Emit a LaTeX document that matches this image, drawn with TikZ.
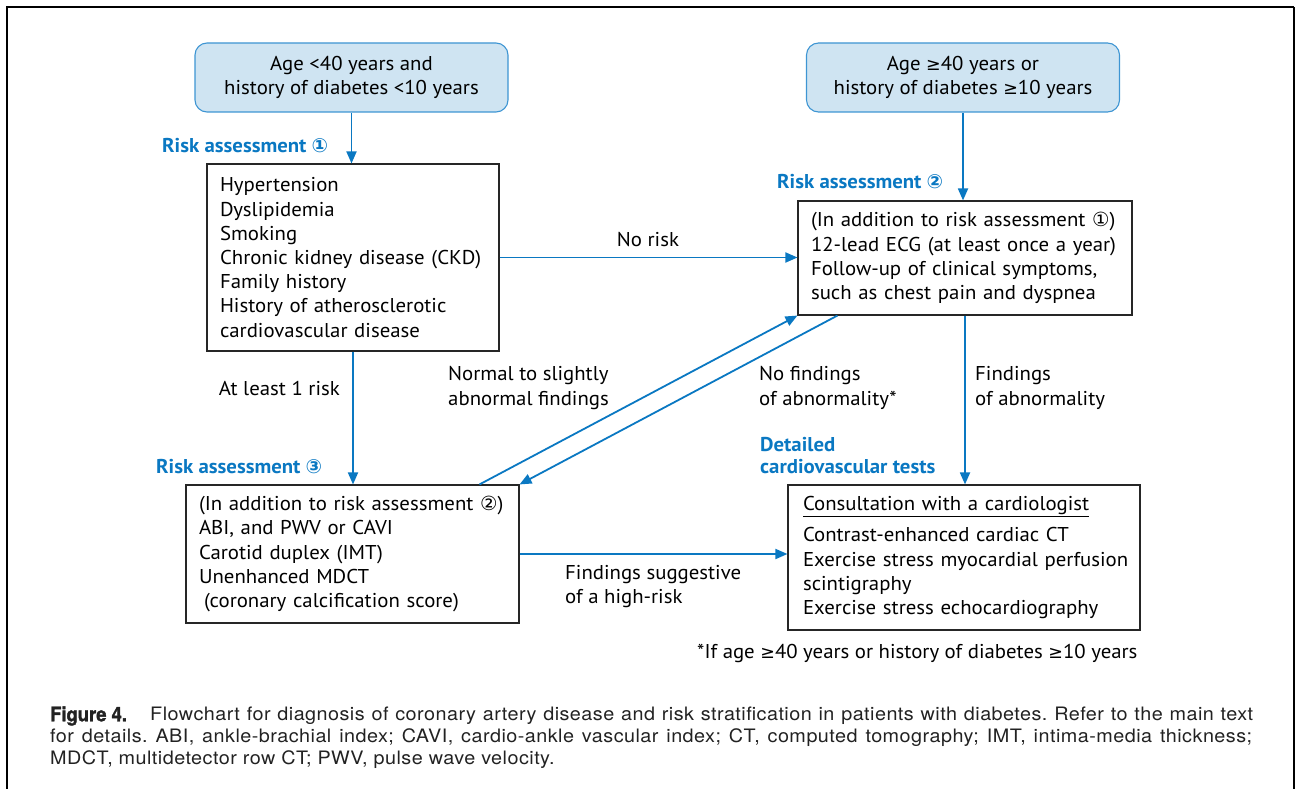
\documentclass[tikz,border=0pt]{standalone}
\usepackage{fontspec}
\usetikzlibrary{arrows.meta}
\setmainfont{PT Sans}[FakeStretch=1.04]
\newfontfamily\symfont{DejaVu Sans}
\newfontfamily\capfont{TeX Gyre Heros}[FakeStretch=1.07, LetterSpace=2.5]
\newfontfamily\capbold{TeX Gyre Heros}[FakeStretch=0.92, FakeBold=1.6]
\newcommand\cnum[1]{{\symfont\fontsize{19.5}{20}\selectfont #1}}
\newcommand\gesym{{\symfont\fontsize{17.5}{20}\selectfont ≥}}
\definecolor{flowblue}{HTML}{0A78C2}
\definecolor{boxfill}{HTML}{CFE4F2}
\definecolor{boxline}{HTML}{3E95D3}
\definecolor{captext}{HTML}{222222}
\begin{document}
\frenchspacing
\begin{tikzpicture}[x=1pt,y=-1pt,
  font=\fontsize{20}{24.2}\selectfont,
  box/.style={draw=black!85, line width=1.1pt, rectangle, align=left, inner xsep=13pt, inner ysep=0pt},
  topbox/.style={draw=boxline, fill=boxfill, rounded corners=12pt, line width=1.1pt, align=center,
    minimum width=313pt, minimum height=69pt, inner sep=0pt},
  flow/.style={draw=flowblue, line width=1.8pt, -{Triangle[length=12pt,width=10pt]}},
  lbl/.style={inner sep=0pt, align=left},
  blbl/.style={lbl, text=flowblue, font=\fontsize{20}{22}\selectfont\bfseries},
  capline/.style={inner sep=0pt, anchor=west, text=captext, font=\capfont\fontsize{18.5}{22}\selectfont}]
\useasboundingbox (0,0) rectangle (1298,789);
% frame around the figure
\draw[line width=2.4pt] (7,789) -- (7,7) -- (1294,7);
\draw[line width=1.6pt] (1294,7) -- (1294,789);

% entry conditions
\node[topbox] (A) at (351.5,77.5) {Age <40 years and\\history of diabetes <10 years};
\node[topbox] (B) at (963,77.5) {Age \gesym40 years or\\history of diabetes \gesym10 years};

% assessment boxes
\node[box, text width=266pt, minimum height=187pt] (C) at (353,257.5)
  {Hypertension\\Dyslipidemia\\Smoking\\\mbox{Chronic kidney disease (CKD)}\\Family history\\History of atherosclerotic\\cardiovascular disease};
\node[box, text width=308pt, minimum height=114pt] (D) at (965,258)
  {\mbox{(In addition to risk assessment \cnum{①})}\\\mbox{12-lead ECG (at least once a year)}\\Follow-up of clinical symptoms,\\such as chest pain and dyspnea};
\node[box, text width=307pt, minimum height=138pt] (E) at (352.5,554)
  {\mbox{(In addition to risk assessment \cnum{②})}\\ABI, and PWV or CAVI\\Carotid duplex (IMT)\\Unenhanced MDCT\\\mbox{\hspace*{5pt}(coronary calcification score)}};
\node[box, inner xsep=15pt, text width=322pt, minimum height=145pt] (F) at (964,557.5)
  {\underline{Consultation with a cardiologist}\\[7pt]Contrast-enhanced cardiac CT\\\mbox{Exercise stress myocardial perfusion}\\scintigraphy\\Exercise stress echocardiography};

% stage labels
\node[blbl, anchor=west] (ra1) at (162,146) {Risk assessment \cnum{①}};
\node[blbl, anchor=west] (ra2) at (777,182) {Risk assessment \cnum{②}};
\node[blbl, anchor=west] (ra3) at (156,467) {Risk assessment \cnum{③}};
\node[blbl, anchor=west] (dct) at (760,456) {Detailed\\cardiovascular tests};

% connectors
\draw[flow] (A.south) -- (A.south |- C.north);
\draw[flow] (B.south) -- (B.south |- D.north);
\draw[flow] (C.east) -- (D.west |- C.east);
\draw[flow] (C.south) -- (C.south |- E.north);
\draw[flow] (D.south) -- (D.south |- F.north);
\draw[flow] (E.east) -- (F.west |- E.east);
\draw[flow] ([xshift=294pt]E.north west) -- (D.south west);
\draw[flow] ([xshift=40pt]D.south west) -- (E.north east);

% connector labels
\node[lbl] (norisk) at (648,240) {No risk};
\node[lbl, anchor=east] (atleast) at (340,388) {At least 1 risk};
\node[lbl, anchor=west] (normal) at (448,388) {Normal to slightly\\abnormal findings};
\node[lbl, anchor=west] (nofind) at (759,388) {No findings\\of abnormality*};
\node[lbl, anchor=west] (find) at (975,388) {Findings\\of abnormality};
\node[lbl, anchor=west] (sugg) at (565,586.5) {Findings suggestive\\of a high-risk};
\node[lbl, anchor=west] (note) at (697,653) {*If age \gesym40 years or history of diabetes \gesym10 years};

% caption
\node[capline, font=\capbold\bfseries\fontsize{20}{22}\selectfont] (figno) at (50,716) {Figure 4.};
\node[capline] (cap1) at (150,716) {\makebox[1103pt][s]{Flowchart for diagnosis of coronary artery disease and risk stratification in patients with diabetes. Refer to the main text}};
\node[capline] (cap2) at (50,738) {\makebox[1202pt][s]{for details. ABI, ankle-brachial index; CAVI, cardio-ankle vascular index; CT, computed tomography; IMT, intima-media thickness;}};
\node[capline] (cap3) at (50,760) {MDCT, multidetector row CT; PWV, pulse wave velocity.};
\end{tikzpicture}
\end{document}
